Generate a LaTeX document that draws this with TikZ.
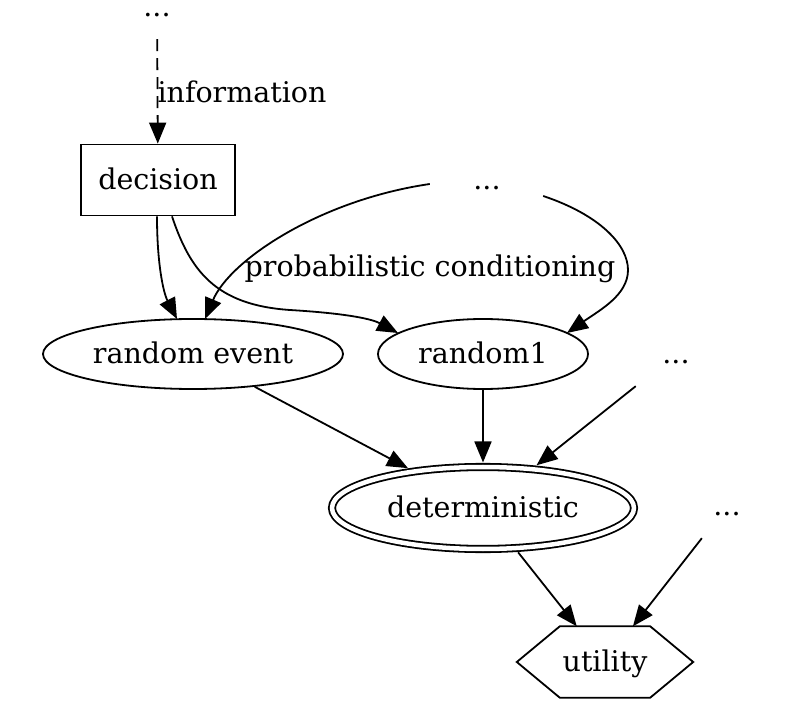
\documentclass[tikz,border=0pt]{standalone}
\usepackage{fontspec}
\setmainfont{DejaVu Serif}
\usetikzlibrary{shapes.geometric,arrows.meta,calc}
\begin{document}
\begin{tikzpicture}[x=1pt,y=-1pt,
  every node/.style={font=\fontsize{28.5pt}{34pt}\selectfont, text height=21pt, text depth=2pt, inner sep=0pt},
  edge/.style={line width=1.8pt, -{Triangle[length=21pt,width=17pt]}},
  oval/.style={ellipse, draw, line width=1.8pt},
  dots/.style={minimum width=114pt, minimum height=64pt},
]
\useasboundingbox (0,0) rectangle (812,719);

% nodes
\node[dots] (top) at (157,7) {...};
\node[draw, line width=1.8pt, minimum width=154pt, minimum height=71pt] (decision) at (158,180) {decision};
\node[dots] (dotsA) at (487,180) {...};
\node[oval, minimum width=300pt, minimum height=70pt] (revent) at (193,354) {random event};
\node[oval, minimum width=210pt, minimum height=70pt] (random1) at (483,354) {random1};
\node[dots] (dotsB) at (676,354) {...};
\node[ellipse, draw, double, double distance=4.5pt, line width=1.8pt,
      minimum width=302pt, minimum height=82pt, outer sep=4.5pt] (det) at (483,508) {deterministic};
\node[dots] (dotsC) at (727,506) {...};
\node[minimum width=176pt, minimum height=71pt] (utility) at (605,662) {utility};
\draw[line width=1.8pt, line join=miter] (utility.west) -- ($(utility.north west)+(43,0)$)
  -- ($(utility.north east)+(-43,0)$) -- (utility.east)
  -- ($(utility.south east)+(-43,0)$) -- ($(utility.south west)+(43,0)$) -- cycle;

% edge labels
\node (info) at (242,93) {information};
\node (cond) at (430,267) {probabilistic conditioning};

% connectors
\draw[edge, dash pattern=on 12pt off 7pt] (top) -- (decision);
\draw[edge] ($(decision.south)+(-1,0)$) .. controls (157,262) and (163,292) .. ($(revent.center)+(-16,-35)$);
\draw[edge] ($(decision.south)+(14,0)$) .. controls (190,270) and (215,305) .. (290,310)
  .. controls (340,313) and (370,318) .. ($(random1.center)+(-85,-21)$);
\draw[edge] ($(dotsA.west)+(0,4)$) .. controls (320,200) and (230,260) .. ($(revent.center)+(12,-35)$);
\draw[edge] ($(dotsA.east)+(-1,16)$) .. controls (600,215) and (628,245) .. (628,270)
  .. controls (628,295) and (600,310) .. ($(random1.center)+(84,-21)$);
\draw[edge] (revent) -- (det);
\draw[edge] (random1) -- (det);
\draw[edge] (dotsB) -- (det);
\draw[edge] (det) -- (utility);
\draw[edge] (dotsC) -- (utility);
\end{tikzpicture}
\end{document}
